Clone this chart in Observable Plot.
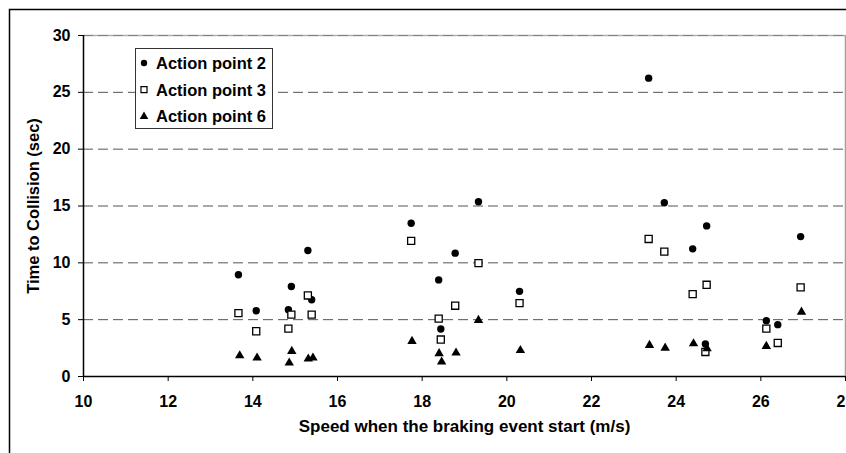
<!DOCTYPE html>
<html>
<head>
<meta charset="utf-8">
<script src="https://cdn.jsdelivr.net/npm/d3@7"></script>
<script src="https://cdn.jsdelivr.net/npm/@observablehq/plot@0.6"></script>
<style>
  html, body { margin: 0; padding: 0; background: #fff; overflow: hidden; }
  #chart { width: 846px; height: 453px; }
</style>
</head>
<body>
<div id="chart"></div>
<script>
// ---- data ----
const seriesNames = ["Action point 2", "Action point 3", "Action point 6"];

const ap2Speed = [13.66, 14.08, 14.84, 14.91, 15.30, 15.39, 17.74, 18.39, 18.44, 18.78, 19.33, 20.30, 23.35, 23.72, 24.39, 24.69, 24.72, 26.13, 26.40, 26.94];
const ap2Ttc   = [8.95, 5.79, 5.88, 7.92, 11.08, 6.75, 13.48, 8.50, 4.18, 10.85, 15.38, 7.49, 26.25, 15.29, 11.23, 2.86, 13.25, 4.91, 4.56, 12.31];

const ap3Speed = [13.66, 14.08, 14.84, 14.91, 15.30, 15.39, 17.74, 18.39, 18.44, 18.78, 19.33, 20.30, 23.35, 23.72, 24.39, 24.69, 24.72, 26.13, 26.40, 26.94];
const ap3Ttc   = [5.58, 3.98, 4.21, 5.44, 7.13, 5.44, 11.93, 5.09, 3.25, 6.23, 9.97, 6.46, 12.10, 10.99, 7.25, 2.16, 8.07, 4.21, 2.95, 7.84];

const ap6Speed = [13.69, 14.10, 14.86, 14.92, 15.31, 15.42, 17.76, 18.40, 18.46, 18.80, 19.33, 20.32, 23.37, 23.74, 24.41, 24.73, 26.13, 26.96];
const ap6Ttc   = [1.84, 1.64, 1.20, 2.22, 1.55, 1.64, 3.10, 2.02, 1.29, 2.08, 4.95, 2.30, 2.75, 2.51, 2.89, 2.45, 2.66, 5.67];

const xTicks = [10, 12, 14, 16, 18, 20, 22, 24, 26, 28];
const yTicks = [0, 5, 10, 15, 20, 25, 30];
const gridValues = [5, 10, 15, 20, 25];
const xTitle = "Speed when the braking event start (m/s)";
const yTitle = "Time to Collision (sec)";

const toRows = (xs, ys, s) => xs.map((x, i) => ({speed: x, ttc: ys[i], series: s}));
const ap2 = toRows(ap2Speed, ap2Ttc, seriesNames[0]);
const ap3 = toRows(ap3Speed, ap3Ttc, seriesNames[1]);
const ap6 = toRows(ap6Speed, ap6Ttc, seriesNames[2]);

const FONT = "'Liberation Sans', Arial, Helvetica, sans-serif";

const chart = Plot.plot({
  width: 846,
  height: 453,
  marginLeft: 83,
  marginRight: 1,
  marginTop: 35,
  marginBottom: 77,
  style: {fontFamily: FONT, fontWeight: "bold", fontSize: "16px", color: "#000", background: "#fff", overflow: "hidden"},
  x: {domain: [10, 28]},
  y: {domain: [0, 30]},
  marks: [
    // plot-area border (top & right, light gray)
    Plot.ruleY([30], {stroke: "#b0b0b0", strokeWidth: 1.5}),
    Plot.ruleX([28], {stroke: "#a0a0a0", strokeWidth: 1.5}),
    // dashed gridlines
    Plot.ruleY(gridValues, {stroke: "#555", strokeWidth: 1, strokeDasharray: "10,5"}),
    Plot.ruleY([30], {stroke: "#808080", strokeWidth: 1, strokeDasharray: "10,5"}),
    // axes
    Plot.axisX({ticks: xTicks, tickSize: 5, tickPadding: 14, label: null, fontSize: 16, fontWeight: "bold", tickFormat: d => String(d)}),
    Plot.axisY({ticks: yTicks, tickSize: 5, tickPadding: 8, label: null, fontSize: 16, fontWeight: "bold", tickFormat: d => String(d)}),
    Plot.ruleX([10], {stroke: "#000", strokeWidth: 1.5}),
    Plot.ruleY([0], {stroke: "#000", strokeWidth: 1.5}),
    // data
    Plot.dot(ap2, {x: "speed", y: "ttc", symbol: "circle", r: 3.7, fill: "#000", stroke: "none"}),
    Plot.dot(ap3, {x: "speed", y: "ttc", symbol: "square", r: 4.0, fill: "#fff", stroke: "#000", strokeWidth: 1.3}),
    Plot.dot(ap6, {x: "speed", y: "ttc", symbol: "triangle", r: 3.5, fill: "#000", stroke: "none"}),
    // axis titles
    Plot.text([xTitle], {frameAnchor: "bottom", dy: 55, fontSize: 17, fontWeight: "bold", fill: "#000", textAnchor: "middle"}),
    Plot.text([yTitle], {frameAnchor: "left", dx: -50, rotate: -90, textAnchor: "middle", fontSize: 16.5, fontWeight: "bold", fill: "#000"})
  ]
});

document.getElementById("chart").appendChild(chart);

// ---- decorations: outer chart frame and legend ----
const svg = d3.select(chart);
svg.append("path")
  .attr("d", "M9.5,460 V9.5 H850")
  .attr("fill", "none").attr("stroke", "#000").attr("stroke-width", 1.5);

const legend = svg.append("g")
  .attr("font-family", FONT).attr("font-weight", "bold").attr("font-size", 16.5)
  .attr("text-anchor", "start");
legend.append("rect")
  .attr("x", 135.5).attr("y", 48.5).attr("width", 137).attr("height", 80)
  .attr("fill", "#fff").attr("stroke", "#333").attr("stroke-width", 1);
const symbols = [d3.symbolCircle, d3.symbolSquare, d3.symbolTriangle];
const symSize = [Math.PI * 3.2 * 3.2, Math.PI * 3.4 * 3.4, Math.PI * 3.2 * 3.2];
const symFill = ["#000", "#fff", "#000"];
const symStroke = ["none", "#000", "none"];
seriesNames.forEach((name, i) => {
  const cy = 63 + i * 26.7;
  legend.append("path")
    .attr("transform", `translate(144,${cy})`)
    .attr("d", d3.symbol(symbols[i], symSize[i])())
    .attr("fill", symFill[i]).attr("stroke", symStroke[i]).attr("stroke-width", 1.2);
  legend.append("text")
    .attr("x", 156).attr("y", cy).attr("dy", "0.36em")
    .attr("text-anchor", "start")
    .attr("fill", "#000").text(name);
});
</script>
</body>
</html>
